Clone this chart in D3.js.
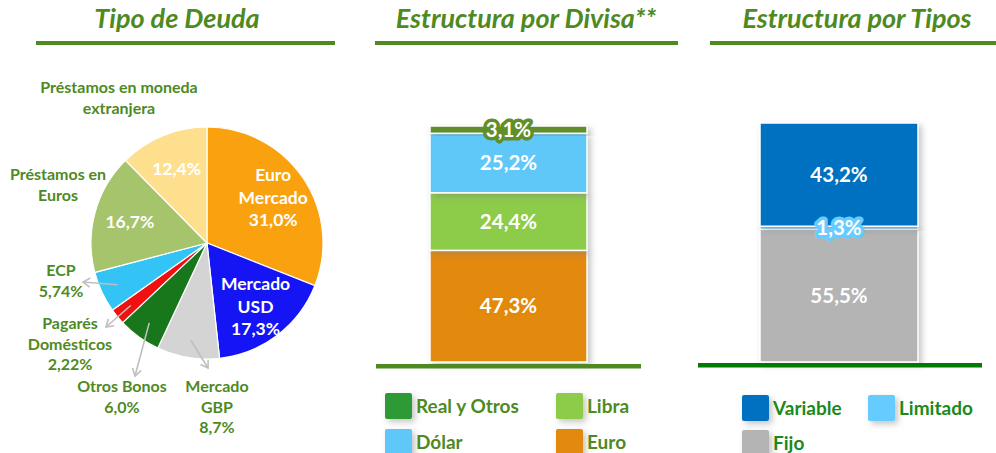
<!DOCTYPE html>

<head>
    <meta charset="utf-8">
    <script src="https://d3js.org/d3.v7.min.js"></script>
    <style>
        body {
            margin: 0;
            background-color: #ffffff;
        }

        text {
            font-family: Lato, "Open Sans", sans-serif;
            font-weight: bold;
        }

        .title {
            fill: #4e8a1f;
            font-size: 27px;
            font-style: italic;
            text-anchor: middle;
        }

        .title-rule {
            fill: #4e8a1f;
        }

        .slice {
            stroke: #ffffff;
            stroke-width: 1.2px;
        }

        .inner-label {
            fill: #ffffff;
            font-size: 17.5px;
            text-anchor: middle;
        }

        .outer-label {
            fill: #4e8a1f;
            font-size: 16px;
            text-anchor: middle;
        }

        .leader {
            fill: none;
            stroke: #bfbfbf;
            stroke-width: 1.6px;
        }

        .segment {
            stroke: #ffffff;
            stroke-width: 1.5px;
        }

        .bar-label {
            fill: #ffffff;
            font-size: 20.5px;
            text-anchor: middle;
            stroke-width: 7px;
            stroke-linejoin: round;
            paint-order: stroke;
        }

        .legend text {
            font-size: 19px;
        }
    </style>
</head>

<body>
    <script>
        var width = 996,
            height = 453;

        // Tipo de Deuda (pie, clockwise from 12 o'clock)
        var debtTypes = ["Euro Mercado", "Mercado USD", "Mercado GBP", "Otros Bonos",
            "Pagarés Domésticos", "ECP", "Préstamos en Euros", "Préstamos en moneda extranjera"];
        var debtShares = [31.0, 17.3, 8.7, 6.0, 2.22, 5.74, 16.7, 12.4];

        // Estructura por Divisa (stack from bottom)
        var currencies = ["Euro", "Libra", "Dólar", "Real y Otros"];
        var currencyShares = [47.3, 24.4, 25.2, 3.1];

        // Estructura por Tipos (stack from bottom)
        var rateTypes = ["Fijo", "Limitado", "Variable"];
        var rateShares = [55.5, 1.3, 43.2];

        var debtColors = ["#f9a10f", "#1414f5", "#d4d4d4", "#17771a", "#f01010", "#33c3f4", "#a5c46c", "#fddf8e"];
        var currencyColors = ["#e3890a", "#8ccc48", "#5fc8f8", "#5f8e2b"];
        var currencyLegendColors = ["#e3890a", "#8ccc48", "#5fc8f8", "#2f9a34"];
        var rateColors = ["#b4b4b4", "#66ccff", "#0070c0"];

        var es = d3.formatLocale({decimal: ",", thousands: ".", grouping: [3], currency: ["", "€"]});
        function pct(v) {
            var dec = Math.round(v * 10) === v * 10 ? ".1f" : ".2f";
            return es.format(dec)(v) + "%";
        }

        var svg = d3.select("body").append("svg")
            .attr("width", width)
            .attr("height", height);

        var defs = svg.append("defs");

        var shadow = defs.append("filter")
            .attr("id", "shadow")
            .attr("x", "-20%").attr("y", "-20%")
            .attr("width", "150%").attr("height", "150%");
        shadow.append("feDropShadow")
            .attr("dx", 3).attr("dy", 3)
            .attr("stdDeviation", 3)
            .attr("flood-color", "#7f7f7f")
            .attr("flood-opacity", 0.45);

        defs.append("marker")
            .attr("id", "arrow")
            .attr("viewBox", "-9 -6 11 12")
            .attr("markerWidth", 11)
            .attr("markerHeight", 12)
            .attr("markerUnits", "userSpaceOnUse")
            .attr("orient", "auto")
            .append("path")
            .attr("d", "M-7,-4.5L0,0L-7,4.5")
            .attr("fill", "none")
            .attr("stroke", "#bfbfbf")
            .attr("stroke-width", 1.6);

        // titles
        var titles = [
            {text: "Tipo de Deuda", x: 177, x0: 36, x1: 335},
            {text: "Estructura por Divisa**", x: 526, x0: 375, x1: 678},
            {text: "Estructura por Tipos", x: 857, x0: 710, x1: 996}
        ];

        titles.forEach(function(t) {
            svg.append("text")
                .attr("class", "title")
                .attr("x", t.x)
                .attr("y", 28)
                .text(t.text);
            svg.append("rect")
                .attr("class", "title-rule")
                .attr("x", t.x0)
                .attr("y", 41)
                .attr("width", t.x1 - t.x0)
                .attr("height", 4);
        });

        // ---- pie ----
        var cx = 207,
            cy = 243,
            radius = 116;

        var pie = d3.pie()
            .sort(null)
            .value(function(d) { return d; });

        var arcs = pie(debtShares);

        var arc = d3.arc()
            .innerRadius(0)
            .outerRadius(radius);

        var labelArc = d3.arc()
            .innerRadius(radius * 0.38)
            .outerRadius(radius);

        var leaderArc = d3.arc()
            .innerRadius(radius * 0.85)
            .outerRadius(radius * 0.85);

        var color = d3.scaleOrdinal()
            .domain(debtTypes)
            .range(debtColors);

        var pieG = svg.append("g")
            .attr("transform", "translate(" + cx + "," + cy + ")");

        pieG.selectAll("path")
            .data(arcs)
            .enter().append("path")
            .attr("class", "slice")
            .attr("fill", function(d, i) { return color(debtTypes[i]); })
            .attr("d", arc);

        // labels inside the pie
        var innerLines = {
            "Euro Mercado": ["Euro", "Mercado"],
            "Mercado USD": ["Mercado", "USD"],
            "Préstamos en Euros": [],
            "Préstamos en moneda extranjera": []
        };

        arcs.forEach(function(d, i) {
            var name = debtTypes[i];
            if (!innerLines[name]) return;
            var lines = innerLines[name].concat([pct(debtShares[i])]);
            var c = labelArc.centroid(d);
            var t = pieG.append("text")
                .attr("class", "inner-label")
                .attr("transform", "translate(" + c + ")");
            lines.forEach(function(l, j) {
                t.append("tspan")
                    .attr("x", 0)
                    .attr("y", (j - (lines.length - 1) / 2) * 22.5 + 6)
                    .text(l);
            });
        });

        // labels outside the pie
        var outerLabels = {
            "Préstamos en moneda extranjera": {x: 119, y: 93, lines: ["Préstamos en moneda", "extranjera"], pct: false},
            "Préstamos en Euros": {x: 58, y: 180, lines: ["Préstamos en", "Euros"], pct: false},
            "ECP": {x: 61, y: 276, lines: ["ECP"], pct: true, end: [83, 282]},
            "Pagarés Domésticos": {x: 70, y: 329, lines: ["Pagarés", "Domésticos"], pct: true, end: [106, 327]},
            "Otros Bonos": {x: 122, y: 392, lines: ["Otros Bonos"], pct: true, end: [135, 376]},
            "Mercado GBP": {x: 217, y: 392, lines: ["Mercado", "GBP"], pct: true, end: [208, 368]}
        };

        arcs.forEach(function(d, i) {
            var o = outerLabels[debtTypes[i]];
            if (!o) return;
            var lines = o.pct ? o.lines.concat([pct(debtShares[i])]) : o.lines;
            var t = svg.append("text")
                .attr("class", "outer-label");
            lines.forEach(function(l, j) {
                t.append("tspan")
                    .attr("x", o.x)
                    .attr("y", o.y + j * 20.5)
                    .text(l);
            });
            if (o.end) {
                var s = leaderArc.centroid(d);
                svg.append("line")
                    .attr("class", "leader")
                    .attr("x1", cx + s[0])
                    .attr("y1", cy + s[1])
                    .attr("x2", o.end[0])
                    .attr("y2", o.end[1])
                    .attr("marker-end", "url(#arrow)");
            }
        });

        // ---- stacked bars ----
        function stackedBar(opts) {
            var y = d3.scaleLinear()
                .domain([0, d3.sum(opts.values)])
                .range([opts.bottom, opts.top]);

            var x = d3.scaleBand()
                .domain([0])
                .range([opts.left, opts.right])
                .padding(0);

            var acc = 0;
            var segs = opts.values.map(function(v, i) {
                var s = {name: opts.names[i], value: v, y0: acc, y1: acc + v, color: opts.colors[i]};
                acc += v;
                return s;
            });

            var g = svg.append("g");

            g.selectAll("rect")
                .data(segs)
                .enter().append("rect")
                .attr("class", "segment")
                .attr("x", x(0))
                .attr("width", x.bandwidth())
                .attr("y", function(d) { return y(d.y1); })
                .attr("height", function(d) { return y(d.y0) - y(d.y1); })
                .attr("fill", function(d) { return d.color; })
                .attr("filter", "url(#shadow)");

            g.selectAll("text")
                .data(segs)
                .enter().append("text")
                .attr("class", "bar-label")
                .attr("x", x(0) + x.bandwidth() / 2)
                .attr("y", function(d) { return (y(d.y0) + y(d.y1)) / 2 + 7; })
                .attr("stroke", function(d) { return d.color; })
                .text(function(d) { return pct(d.value); });

            svg.append("rect")
                .attr("x", opts.rule[0])
                .attr("y", opts.rule[2])
                .attr("width", opts.rule[1] - opts.rule[0])
                .attr("height", 4.5)
                .attr("fill", opts.ruleColor);
        }

        stackedBar({
            names: currencies, values: currencyShares, colors: currencyColors,
            left: 430, right: 587, top: 126, bottom: 362,
            rule: [376, 641, 364], ruleColor: "#4e8a1f"
        });

        stackedBar({
            names: rateTypes, values: rateShares, colors: rateColors,
            left: 760, right: 918, top: 123, bottom: 362,
            rule: [698, 982, 363], ruleColor: "#007a00"
        });

        // ---- legends ----
        function legend(items, colors, textColor) {
            var g = svg.append("g").attr("class", "legend");
            items.forEach(function(it, i) {
                g.append("rect")
                    .attr("x", it.x)
                    .attr("y", it.y)
                    .attr("width", 27)
                    .attr("height", 26)
                    .attr("rx", 2)
                    .attr("fill", colors[i])
                    .attr("filter", "url(#shadow)");
                g.append("text")
                    .attr("x", it.x + 31)
                    .attr("y", it.y + 20)
                    .attr("fill", textColor)
                    .text(it.name);
            });
        }

        legend([
            {name: currencies[3], x: 385, y: 393},
            {name: currencies[1], x: 556, y: 393},
            {name: currencies[2], x: 385, y: 429},
            {name: currencies[0], x: 556, y: 429}
        ], [currencyLegendColors[3], currencyLegendColors[1], currencyLegendColors[2], currencyLegendColors[0]], "#4e8a1f");

        legend([
            {name: rateTypes[2], x: 742, y: 395},
            {name: rateTypes[1], x: 868, y: 395},
            {name: rateTypes[0], x: 742, y: 430}
        ], [rateColors[2], rateColors[1], rateColors[0]], "#1a8a1a");
    </script>
</body>
